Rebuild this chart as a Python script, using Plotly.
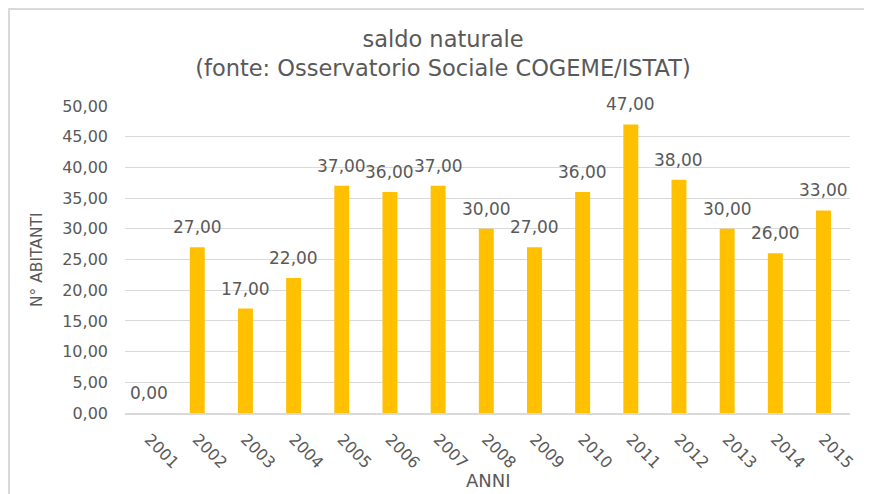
import plotly.graph_objects as go

years = ["2001", "2002", "2003", "2004", "2005", "2006", "2007", "2008",
         "2009", "2010", "2011", "2012", "2013", "2014", "2015"]
values = [0, 27, 17, 22, 37, 36, 37, 30, 27, 36, 47, 38, 30, 26, 33]
y_ticks = [0, 5, 10, 15, 20, 25, 30, 35, 40, 45, 50]

FONT = "'DejaVu Sans', sans-serif"
GRAY = "#595959"

# figure is drawn at an 8px page offset (body margin); layout in figure px
W, H = 864, 486
L, R, T, B = 117, 22, 98, 81
PW, PH = W - L - R, H - T - B


def px(x):
    return (x - L) / PW


def py(y):
    return (H - B - y) / PH


fig = go.Figure()
fig.add_trace(go.Bar(
    x=years, y=values,
    marker=dict(color="#FFC000", line=dict(width=0)),
    hoverinfo="x+y",
))

annotations = [
    dict(x=i, y=v, xref="x", yref="y", text=f"{v:.2f}".replace(".", ","),
         showarrow=False, yanchor="bottom", yshift=8,
         font=dict(size=17, color=GRAY, family=FONT))
    for i, v in enumerate(values)
]
annotations.append(dict(text="ANNI", xref="paper", yref="paper",
                        x=px(480), y=py(485.5), xanchor="center", yanchor="bottom",
                        showarrow=False, font=dict(size=18, color=GRAY, family=FONT)))
annotations.append(dict(text="N° ABITANTI", xref="paper", yref="paper",
                        x=px(29), y=py(252), xanchor="center",
                        yanchor="middle", textangle=-90,
                        showarrow=False, font=dict(size=15.5, color=GRAY, family=FONT)))

fig.update_layout(
    width=W, height=H,
    margin=dict(l=L, r=R, t=T, b=B),
    paper_bgcolor="white", plot_bgcolor="white",
    separators=",.",
    showlegend=False,
    bargap=0.69,
    font=dict(family=FONT, color=GRAY),
    title=dict(
        text="saldo naturale<br>(fonte: Osservatorio Sociale COGEME/ISTAT)",
        x=0.5035, xanchor="center", y=0.92, yanchor="top",
        font=dict(size=22.5, color=GRAY, family=FONT),
    ),
    xaxis=dict(
        type="category", tickangle=45, automargin=False,
        tickfont=dict(size=16, color=GRAY),
        showline=True, linecolor="#d9d9d9", linewidth=1.5,
        ticks="", showgrid=False, ticklabelstandoff=9,
    ),
    yaxis=dict(
        range=[0, 50], tickvals=y_ticks, tickformat=".2f", automargin=False,
        tickfont=dict(size=16, color=GRAY),
        showgrid=True, gridcolor="#d9d9d9", gridwidth=1,
        zeroline=False, ticks="", ticklabelstandoff=16,
    ),
    annotations=annotations,
    shapes=[dict(
        type="rect", xref="paper", yref="paper",
        x0=px(1), x1=px(875), y0=py(495), y1=py(1),
        line=dict(color="#d9d9d9", width=2), fillcolor="rgba(0,0,0,0)",
        layer="below",
    )],
)

fig.write_html("out.html")
